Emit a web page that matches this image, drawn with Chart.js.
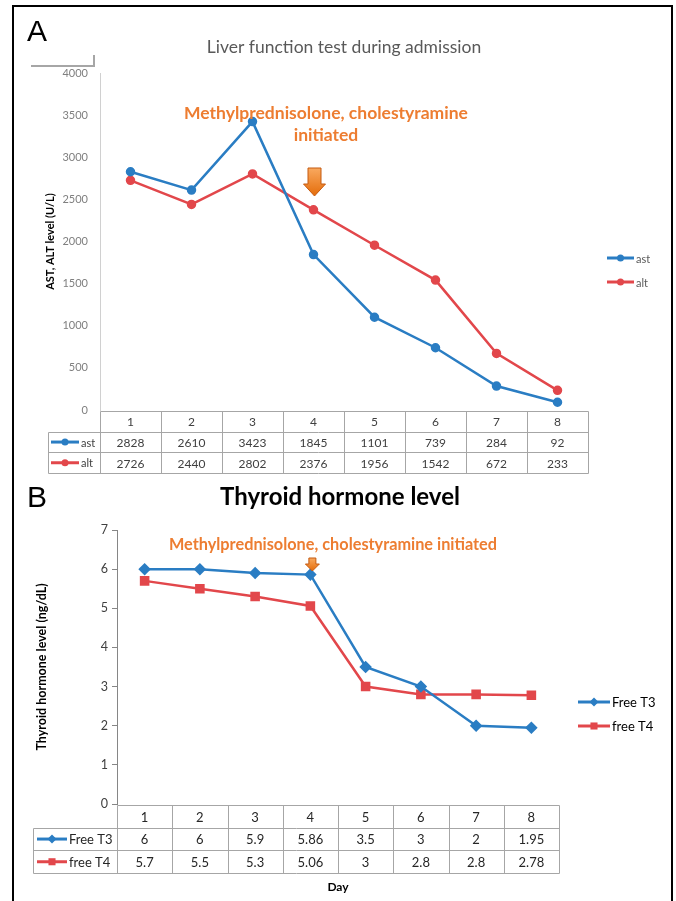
<!DOCTYPE html>
<html>
<head>
<meta charset="utf-8">
<script src="https://cdn.jsdelivr.net/npm/chart.js@4.4.1/dist/chart.umd.min.js"></script>
<style>
  body { margin: 0; background: #fff; width: 676px; height: 901px; overflow: hidden; position: relative; }
  #frame { position: absolute; left: 12px; top: 5px; width: 657px; height: 900px; border: 2px solid #000; border-bottom: none; }
  canvas { position: absolute; left: 0; }
  #chart-liver { top: 0; }
  #chart-thyroid { top: 478px; }
</style>
</head>
<body>
<div id="frame"></div>
<canvas id="chart-liver" width="676" height="478"></canvas>
<canvas id="chart-thyroid" width="676" height="423"></canvas>
<script>
const days = ['1', '2', '3', '4', '5', '6', '7', '8'];
const astValues = [2828, 2610, 3423, 1845, 1101, 739, 284, 92];
const altValues = [2726, 2440, 2802, 2376, 1956, 1542, 672, 233];
const freeT3Values = [6, 6, 5.9, 5.86, 3.5, 3, 2, 1.95];
const freeT4Values = [5.7, 5.5, 5.3, 5.06, 3, 2.8, 2.8, 2.78];
const liverTickMax = 4000;
const liverTickStep = 500;
const thyroidTickMax = 7;
const thyroidTickStep = 1;
const drugDay = '4';

const BLUE = '#2A7DC3';
const RED = '#E2474B';
const ORANGE = '#ED7D31';
const FONT = 'Lato, "Open Sans", sans-serif';

function drawDownArrow(ctx, cx, top, h, shaftW, headW, headH) {
  const grad = ctx.createLinearGradient(0, top, 0, top + h);
  grad.addColorStop(0, '#F9A95F');
  grad.addColorStop(1, '#E46C0A');
  ctx.save();
  ctx.beginPath();
  ctx.moveTo(cx - shaftW / 2, top);
  ctx.lineTo(cx + shaftW / 2, top);
  ctx.lineTo(cx + shaftW / 2, top + h - headH);
  ctx.lineTo(cx + headW / 2, top + h - headH);
  ctx.lineTo(cx, top + h);
  ctx.lineTo(cx - headW / 2, top + h - headH);
  ctx.lineTo(cx - shaftW / 2, top + h - headH);
  ctx.closePath();
  ctx.fillStyle = grad;
  ctx.fill();
  ctx.strokeStyle = '#C55A11';
  ctx.lineWidth = 1;
  ctx.stroke();
  ctx.restore();
}

// draws the excel-like data table under the plot, one column per category
const dataTablePlugin = {
  id: 'dataTable',
  afterDraw(chart, args, opts) {
    const ctx = chart.ctx;
    const area = chart.chartArea;
    const n = chart.data.labels.length;
    const colW = (area.right - area.left) / n;
    const top = area.bottom + opts.gap;
    const rh = opts.rowHeight;
    const rows = chart.data.datasets.length;
    const bottom = top + rh * (rows + 1);
    const px = v => Math.round(v) + 0.5;

    ctx.save();
    ctx.strokeStyle = opts.gridColor;
    ctx.lineWidth = 1;
    ctx.beginPath();
    ctx.moveTo(px(area.left), px(top));
    ctx.lineTo(px(area.right), px(top));
    for (let r = 1; r <= rows + 1; r++) {
      ctx.moveTo(px(opts.labelLeft), px(top + rh * r));
      ctx.lineTo(px(area.right), px(top + rh * r));
    }
    ctx.moveTo(px(opts.labelLeft), px(top + rh));
    ctx.lineTo(px(opts.labelLeft), px(bottom));
    for (let i = 0; i <= n; i++) {
      ctx.moveTo(px(area.left + colW * i), px(top));
      ctx.lineTo(px(area.left + colW * i), px(bottom));
    }
    ctx.stroke();

    ctx.font = opts.font;
    ctx.fillStyle = opts.textColor;
    ctx.textAlign = 'center';
    ctx.textBaseline = 'middle';
    chart.data.labels.forEach((lab, i) => {
      ctx.fillText(lab, area.left + colW * (i + 0.5), top + rh / 2 + 1);
    });
    chart.data.datasets.forEach((ds, r) => {
      const yMid = top + rh * (r + 1.5);
      ds.data.forEach((v, i) => {
        ctx.fillText(String(v), area.left + colW * (i + 0.5), yMid + 1);
      });
      // legend key
      const k0 = opts.labelLeft + opts.keyStart;
      const k1 = k0 + opts.keyLen;
      ctx.strokeStyle = ds.borderColor;
      ctx.lineWidth = 3;
      ctx.beginPath();
      ctx.moveTo(k0, yMid);
      ctx.lineTo(k1, yMid);
      ctx.stroke();
      ctx.fillStyle = ds.pointBackgroundColor;
      Chart.helpers.drawPoint(ctx, { pointStyle: ds.pointStyle, radius: ds.pointRadius, rotation: 0, borderWidth: 0 }, (k0 + k1) / 2, yMid);
      ctx.fillStyle = opts.textColor;
      ctx.textAlign = 'left';
      ctx.font = opts.keyFont;
      ctx.fillText(ds.label, k1 + 2, yMid + 1);
      ctx.font = opts.font;
      ctx.textAlign = 'center';
    });
    ctx.restore();
  }
};

// legend on the right hand side, plus titles and the drug annotation
const decorPlugin = {
  id: 'decor',
  afterDraw(chart, args, opts) {
    const ctx = chart.ctx;
    const area = chart.chartArea;
    ctx.save();

    // side legend
    chart.data.datasets.forEach((ds, i) => {
      const y = opts.legendY + i * opts.legendGap;
      ctx.strokeStyle = ds.borderColor;
      ctx.lineWidth = 3;
      ctx.beginPath();
      ctx.moveTo(opts.legendX, y);
      ctx.lineTo(opts.legendX + opts.legendLen, y);
      ctx.stroke();
      ctx.fillStyle = ds.pointBackgroundColor;
      Chart.helpers.drawPoint(ctx, { pointStyle: ds.pointStyle, radius: ds.pointRadius, rotation: 0, borderWidth: 0 }, opts.legendX + opts.legendLen / 2, y);
      ctx.fillStyle = opts.legendColor;
      ctx.font = opts.legendFont;
      ctx.textAlign = 'left';
      ctx.textBaseline = 'middle';
      ctx.fillText(ds.label, opts.legendX + opts.legendLen + 2, y + 1);
    });

    // panel tag
    ctx.fillStyle = '#000';
    ctx.font = '30px "Liberation Sans", Arial, sans-serif';
    ctx.textAlign = 'left';
    ctx.textBaseline = 'alphabetic';
    ctx.fillText(opts.tag, opts.tagX, opts.tagY);

    // title
    ctx.textAlign = 'center';
    ctx.textBaseline = 'middle';
    ctx.fillStyle = opts.titleColor;
    ctx.font = opts.titleFont;
    ctx.fillText(opts.title, opts.titleX, opts.titleY);

    // y axis title
    ctx.save();
    ctx.translate(opts.yTitleX, (area.top + area.bottom) / 2 + opts.yTitleShift);
    ctx.rotate(-Math.PI / 2);
    ctx.fillStyle = '#000';
    ctx.font = opts.yTitleFont;
    ctx.fillText(opts.yTitle, 0, 0);
    ctx.restore();

    // x axis title
    if (opts.xTitle) {
      ctx.fillStyle = '#000';
      ctx.font = opts.xTitleFont;
      ctx.fillText(opts.xTitle, (area.left + area.right) / 2, opts.xTitleY);
    }

    // drug annotation
    ctx.fillStyle = ORANGE;
    ctx.font = opts.noteFont;
    opts.noteLines.forEach((line, i) => {
      ctx.fillText(line, opts.noteX, opts.noteY + i * opts.noteGap);
    });
    const ax = chart.scales.x.getPixelForValue(days.indexOf(drugDay)) + opts.arrowShift;
    drawDownArrow(ctx, ax, opts.arrow.top, opts.arrow.h, opts.arrow.shaftW, opts.arrow.headW, opts.arrow.headH);

    // odd grey corner mark left over in the original figure
    if (opts.cornerMark) {
      ctx.strokeStyle = '#a6a6a6';
      ctx.lineWidth = 2;
      ctx.beginPath();
      ctx.moveTo(31, 66);
      ctx.lineTo(94, 66);
      ctx.lineTo(94, 55);
      ctx.stroke();
    }
    ctx.restore();
  }
};

const liverChart = new Chart(document.getElementById('chart-liver'), {
  type: 'line',
  plugins: [dataTablePlugin, decorPlugin],
  data: {
    labels: days,
    datasets: [
      {
        label: 'ast',
        data: astValues,
        borderColor: BLUE,
        backgroundColor: BLUE,
        pointBackgroundColor: BLUE,
        pointBorderColor: BLUE,
        pointStyle: 'circle',
        pointRadius: 3.5,
        borderWidth: 2.5,
        tension: 0
      },
      {
        label: 'alt',
        data: altValues,
        borderColor: RED,
        backgroundColor: RED,
        pointBackgroundColor: RED,
        pointBorderColor: RED,
        pointStyle: 'circle',
        pointRadius: 3.5,
        borderWidth: 2.5,
        tension: 0
      }
    ]
  },
  options: {
    responsive: false,
    animation: false,
    layout: { padding: { left: 40, right: 88, top: 73, bottom: 68 } },
    scales: {
      x: { display: false, offset: true },
      y: {
        min: 0,
        max: liverTickMax,
        afterFit: scale => { scale.width = 60; },
        ticks: {
          stepSize: liverTickStep, padding: 4, color: '#7f7f7f', font: { family: FONT, size: 11 },
          callback: value => String(value)
        },
        grid: { display: false },
        border: { display: true, color: '#d0d0d0', width: 1 }
      }
    },
    plugins: {
      legend: { display: false },
      tooltip: { enabled: false },
      dataTable: {
        gap: 1, rowHeight: 20.7, labelLeft: 48, keyStart: 3, keyLen: 28,
        gridColor: '#a6a6a6', textColor: '#404040', font: '12px ' + FONT, keyFont: '11px ' + FONT
      },
      decor: {
        tag: 'A', tagX: 27, tagY: 41,
        title: 'Liver function test during admission', titleX: 344, titleY: 47,
        titleColor: '#595959', titleFont: '17.5px ' + FONT,
        yTitle: 'AST, ALT level (U/L)', yTitleX: 50, yTitleShift: 0, yTitleFont: 'bold 11px ' + FONT,
        legendX: 607, legendY: 258, legendGap: 24, legendLen: 27, legendColor: '#595959', legendFont: '11px ' + FONT,
        noteLines: ['Methylprednisolone, cholestyramine', 'initiated'], noteX: 326, noteY: 113, noteGap: 22,
        noteFont: 'bold 17.5px ' + FONT,
        arrowShift: 1, arrow: { top: 168, h: 28, shaftW: 13, headW: 22, headH: 12 },
        cornerMark: true
      }
    }
  }
});

const thyroidChart = new Chart(document.getElementById('chart-thyroid'), {
  type: 'line',
  plugins: [dataTablePlugin, decorPlugin],
  data: {
    labels: days,
    datasets: [
      {
        label: 'Free T3',
        data: freeT3Values,
        borderColor: BLUE,
        backgroundColor: BLUE,
        pointBackgroundColor: BLUE,
        pointBorderColor: BLUE,
        pointStyle: 'rectRot',
        pointRadius: 4.5,
        borderWidth: 2.5,
        tension: 0
      },
      {
        label: 'free T4',
        data: freeT4Values,
        borderColor: RED,
        backgroundColor: RED,
        pointBackgroundColor: RED,
        pointBorderColor: RED,
        pointStyle: 'rect',
        pointRadius: 5,
        borderWidth: 2.5,
        tension: 0
      }
    ]
  },
  options: {
    responsive: false,
    animation: false,
    layout: { padding: { left: 77, right: 117, top: 52, bottom: 97 } },
    scales: {
      x: { display: false, offset: true },
      y: {
        min: 0,
        max: thyroidTickMax,
        afterFit: scale => { scale.width = 40; },
        ticks: { stepSize: thyroidTickStep, padding: 4, color: '#404040', font: { family: FONT, size: 12.5 } },
        grid: { display: true, drawOnChartArea: false, drawTicks: true, tickLength: 5, color: '#868686' },
        border: { display: true, color: '#868686', width: 1 }
      }
    },
    plugins: {
      legend: { display: false },
      tooltip: { enabled: false },
      dataTable: {
        gap: 1, rowHeight: 22.7, labelLeft: 33, keyStart: 4, keyLen: 30,
        gridColor: '#a6a6a6', textColor: '#262626', font: '13px ' + FONT, keyFont: '13px ' + FONT
      },
      decor: {
        tag: 'B', tagX: 27, tagY: 29,
        title: 'Thyroid hormone level', titleX: 340, titleY: 19,
        titleColor: '#000', titleFont: 'bold 24px ' + FONT,
        yTitle: 'Thyroid hormone level (ng/dL)', yTitleX: 42, yTitleShift: 0, yTitleFont: 'bold 12.5px ' + FONT,
        xTitle: 'Day', xTitleY: 409, xTitleFont: 'bold 12px ' + FONT,
        legendX: 578, legendY: 224, legendGap: 24, legendLen: 32, legendColor: '#000', legendFont: '13px ' + FONT,
        noteLines: ['Methylprednisolone, cholestyramine initiated'], noteX: 333, noteY: 67, noteGap: 0,
        noteFont: 'bold 16.3px ' + FONT,
        arrowShift: 2, arrow: { top: 80, h: 13, shaftW: 7, headW: 14, headH: 7 },
        cornerMark: false
      }
    }
  }
});
</script>
</body>
</html>
